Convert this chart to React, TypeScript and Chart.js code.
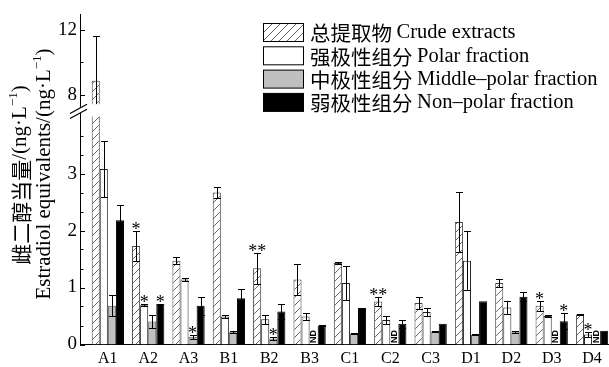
import React, { useEffect, useRef } from 'react';
import { Chart, registerables, LinearScale } from 'chart.js';

Chart.register(...registerables);

// ---------- data ----------
const categories = ['A1', 'A2', 'A3', 'B1', 'B2', 'B3', 'C1', 'C2', 'C3', 'D1', 'D2', 'D3', 'D4'];

const seriesLabels = [
  ['总提取物', 'Crude extracts'],
  ['强极性组分', 'Polar fraction'],
  ['中极性组分', 'Middle–polar fraction'],
  ['弱极性组分', 'Non–polar fraction'],
];

const crude = [8.86, 1.73, 1.47, 2.665, 1.34, 1.14, 1.43, 0.755, 0.73, 2.15, 1.08, 0.68, 0.525];
const crudeSd = [2.79, 0.27, 0.06, 0.1, 0.27, 0.28, 0.01, 0.08, 0.11, 0.53, 0.07, 0.09, 0.01];
const crudeMarks = ['', '*', '', '', '**', '', '', '**', '', '', '', '*', ''];

const polar = [3.08, 0.69, 1.14, 0.49, 0.445, 0.49, 1.08, 0.43, 0.57, 1.47, 0.65, 0.5, 0.175];
const polarSd = [0.49, 0.02, 0.02, 0.02, 0.08, 0.06, 0.3, 0.07, 0.07, 0.52, 0.11, 0.02, 0.05];
const polarMarks = ['', '*', '', '', '', '', '', '', '', '', '', '', '*'];

const middle = [0.68, 0.405, 0.135, 0.215, 0.107, null, 0.19, null, 0.23, 0.17, 0.215, null, null];
const middleSd = [0.18, 0.115, 0.04, 0.02, 0.02, 0, 0.01, 0, 0.01, 0.01, 0.02, 0, 0];
const middleMarks = ['', '', '*', '', '*', 'ND', '', 'ND', '', '', '', 'ND', 'ND'];

const nonpolar = [2.18, 0.71, 0.68, 0.81, 0.58, 0.335, 0.64, 0.365, 0.365, 0.76, 0.84, 0.41, 0.24];
const nonpolarSd = [0.27, 0, 0.16, 0.16, 0.13, 0.01, 0, 0.07, 0, 0, 0.08, 0.14, 0];
const nonpolarMarks = ['', '*', '', '', '', '', '', '', '', '', '', '*', ''];

const yTickValues = [0, 1, 2, 3, 8, 12];
const yMinorTicks = [0.333, 0.667, 1.333, 1.667, 2.333, 2.667, 3.333, 3.667, 10];

// axis break: lower segment [0, BREAK_LOW], upper segment [BREAK_HIGH, max]
const BREAK_LOW = 4.0;
const BREAK_HIGH = 7.4;
const FRAC_LOW = 0.6906;
const FRAC_GAP = 0.0375;

const yTitleZh = ['雌二醇当量', '/(ng·L', '−1', ')'];
const yTitleEn = ['', 'Estradiol equivalents/(ng·L', '−1', ')'];

const SERIF = '"Liberation Serif", "Noto Sans CJK SC", serif';
const CJK = '"Noto Sans CJK SC", "Liberation Serif", sans-serif';

// ---------- broken scale ----------
class BrokenLinearScale extends LinearScale {
  static id = 'brokenLinear';
  static defaults = LinearScale.defaults;

  buildTicks() {
    return yTickValues.map((v) => ({ value: v }));
  }

  toDecimal(v: number) {
    const max = this.max;
    const fUp = 1 - FRAC_LOW - FRAC_GAP;
    if (v <= BREAK_LOW) return (v / BREAK_LOW) * FRAC_LOW;
    if (v < BREAK_HIGH) return FRAC_LOW + ((v - BREAK_LOW) / (BREAK_HIGH - BREAK_LOW)) * FRAC_GAP;
    return FRAC_LOW + FRAC_GAP + ((v - BREAK_HIGH) / (max - BREAK_HIGH)) * fUp;
  }

  getPixelForValue(value: any) {
    if (value === null || value === undefined || isNaN(value)) return NaN;
    return this.getPixelForDecimal(this.toDecimal(+value));
  }

  getValueForPixel(pixel: number) {
    const d = this.getDecimalForPixel(pixel);
    const max = this.max;
    const fUp = 1 - FRAC_LOW - FRAC_GAP;
    if (d <= FRAC_LOW) return (d / FRAC_LOW) * BREAK_LOW;
    if (d < FRAC_LOW + FRAC_GAP) return BREAK_LOW + ((d - FRAC_LOW) / FRAC_GAP) * (BREAK_HIGH - BREAK_LOW);
    return BREAK_HIGH + ((d - FRAC_LOW - FRAC_GAP) / fUp) * (max - BREAK_HIGH);
  }
}
Chart.register(BrokenLinearScale as any);

function makeHatch(size: number) {
  const c = document.createElement('canvas');
  c.width = size;
  c.height = size;
  const g = c.getContext('2d')!;
  g.fillStyle = '#ffffff';
  g.fillRect(0, 0, size, size);
  g.strokeStyle = '#555555';
  g.lineWidth = 0.9;
  g.beginPath();
  g.moveTo(-1, size + 1);
  g.lineTo(size + 1, -1);
  g.moveTo(-1, 1);
  g.lineTo(1, -1);
  g.moveTo(size - 1, size + 1);
  g.lineTo(size + 1, size - 1);
  g.stroke();
  return g.createPattern(c, 'repeat')!;
}

function drawRotatedTitle(ctx: CanvasRenderingContext2D, parts: string[], cx: number, cy: number, cjkSize: number, size: number) {
  const fonts = [`${cjkSize}px ${CJK}`, `${size}px ${SERIF}`, `${Math.round(size * 0.6)}px ${SERIF}`, `${size}px ${SERIF}`];
  const dys = [0, 0, -size * 0.32, 0];
  ctx.save();
  ctx.translate(cx, cy);
  ctx.rotate(-Math.PI / 2);
  ctx.fillStyle = '#000';
  ctx.textBaseline = 'middle';
  ctx.textAlign = 'left';
  const widths = parts.map((p, i) => {
    ctx.font = fonts[i];
    return p ? ctx.measureText(p).width : 0;
  });
  const total = widths.reduce((a, b) => a + b, 0);
  let x = -total / 2;
  parts.forEach((p, i) => {
    if (!p) return;
    ctx.font = fonts[i];
    ctx.fillText(p, x, dys[i] + (i === 0 ? 1 : 0));
    x += widths[i];
  });
  ctx.restore();
}

export default function App() {
  const ref = useRef<HTMLCanvasElement | null>(null);

  useEffect(() => {
    const canvas = ref.current!;
    const hatch = makeHatch(8);
    const sds = [crudeSd, polarSd, middleSd, nonpolarSd];
    const marks = [crudeMarks, polarMarks, middleMarks, nonpolarMarks];
    const vals = [crude, polar, middle, nonpolar];

    const overlay = {
      id: 'overlay',
      afterDatasetsDraw(chart: any) {
        const ctx = chart.ctx as CanvasRenderingContext2D;
        const ys = chart.scales.y;
        const area = chart.chartArea;
        // error bars
        ctx.save();
        ctx.strokeStyle = '#000';
        ctx.lineWidth = 1;
        for (let d = 0; d < 4; d++) {
          const meta = chart.getDatasetMeta(d);
          vals[d].forEach((v, j) => {
            const sd = sds[d][j];
            if (v === null || !sd) return;
            const el = meta.data[j];
            const x = Math.round(el.x) + 0.5;
            const top = Math.round(ys.getPixelForValue(v + sd)) + 0.5;
            const bot = Math.round(ys.getPixelForValue(Math.max(0, v - sd))) + 0.5;
            const hw = 3.5;
            ctx.beginPath();
            ctx.moveTo(x, top);
            ctx.lineTo(x, bot);
            ctx.moveTo(x - hw, top);
            ctx.lineTo(x + hw, top);
            ctx.moveTo(x - hw, bot);
            ctx.lineTo(x + hw, bot);
            ctx.stroke();
          });
        }
        ctx.restore();
        // asterisks and ND
        ctx.save();
        ctx.fillStyle = '#000';
        for (let d = 0; d < 4; d++) {
          const meta = chart.getDatasetMeta(d);
          marks[d].forEach((m, j) => {
            if (!m) return;
            const el = meta.data[j];
            const x = el.x;
            if (m === 'ND') {
              ctx.save();
              ctx.translate(x, area.bottom - 8);
              ctx.rotate(-Math.PI / 2);
              ctx.font = `bold 9px "Liberation Sans", sans-serif`;
              ctx.textAlign = 'center';
              ctx.textBaseline = 'middle';
              ctx.fillText('ND', 0, 0);
              ctx.restore();
            } else {
              const v = vals[d][j] as number;
              const sd = sds[d][j] || 0;
              const top = ys.getPixelForValue(v + sd);
              ctx.font = `18px ${SERIF}`;
              ctx.textAlign = 'center';
              ctx.textBaseline = 'alphabetic';
              ctx.fillText(m, x, top + 4);
            }
          });
        }
        ctx.restore();
        // axis break
        const gTop = ys.getPixelForValue(BREAK_HIGH);
        const gBot = ys.getPixelForValue(BREAK_LOW);
        const el0 = chart.getDatasetMeta(0).data[0];
        ctx.save();
        ctx.fillStyle = '#fff';
        ctx.fillRect(el0.x - el0.width / 2 - 1, gTop, el0.width + 2, gBot - gTop);
        ctx.beginPath();
        ctx.moveTo(area.left - 10, gBot + 2);
        ctx.lineTo(area.left + 7, gTop + 5);
        ctx.lineTo(area.left + 7, gTop);
        ctx.lineTo(area.left - 10, gBot - 3);
        ctx.closePath();
        ctx.fill();
        ctx.strokeStyle = '#000';
        ctx.lineWidth = 1.2;
        ctx.beginPath();
        ctx.moveTo(area.left - 10, gBot + 2);
        ctx.lineTo(area.left + 7, gTop + 5);
        ctx.moveTo(area.left - 10, gBot - 3);
        ctx.lineTo(area.left + 7, gTop);
        ctx.stroke();
        ctx.restore();
      },
      afterDraw(chart: any) {
        const ctx = chart.ctx as CanvasRenderingContext2D;
        const ys = chart.scales.y;
        const area = chart.chartArea;
        // inside ticks
        ctx.save();
        ctx.strokeStyle = '#000';
        ctx.lineWidth = 1;
        ctx.beginPath();
        yTickValues.forEach((v) => {
          const p = Math.round(ys.getPixelForValue(v)) + 0.5;
          ctx.moveTo(area.left, p);
          ctx.lineTo(area.left + 5, p);
        });
        yMinorTicks.forEach((v) => {
          const p = Math.round(ys.getPixelForValue(v)) + 0.5;
          ctx.moveTo(area.left, p);
          ctx.lineTo(area.left + 3.5, p);
        });
        ctx.stroke();
        ctx.restore();
        // legend
        const fills: any[] = [hatch, '#ffffff', '#c0c0c0', '#000000'];
        ctx.save();
        seriesLabels.forEach((lab, i) => {
          const bx = 263.5;
          const by = 23.5 + i * 23.3;
          ctx.fillStyle = fills[i];
          ctx.fillRect(bx, by, 40, 18);
          ctx.strokeStyle = '#000';
          ctx.lineWidth = 1;
          ctx.strokeRect(bx, by, 40, 18);
          ctx.fillStyle = '#000';
          ctx.textAlign = 'left';
          ctx.textBaseline = 'middle';
          ctx.font = `20.5px ${CJK}`;
          const zh = lab[0] + ' ';
          ctx.fillText(zh, 310, by + 10);
          const w = ctx.measureText(zh).width;
          ctx.font = `20.5px ${SERIF}`;
          ctx.fillText(lab[1], 310 + w, by + 9.5);
        });
        ctx.restore();
        // y title
        drawRotatedTitle(ctx, yTitleZh, 20, 175, 21, 21);
        drawRotatedTitle(ctx, yTitleEn, 44, 174, 21, 21);
      },
    };

    const mk = (arr: (number | null)[]) => arr.map((v, i) => ({ x: i, y: v }));

    const chart = new Chart(canvas, {
      type: 'bar',
      data: {
        datasets: [
          { label: seriesLabels[0][1], data: mk(crude), backgroundColor: hatch, borderColor: '#444', borderWidth: 1 },
          { label: seriesLabels[1][1], data: mk(polar), backgroundColor: '#ffffff', borderColor: '#222', borderWidth: 1 },
          { label: seriesLabels[2][1], data: mk(middle), backgroundColor: '#c0c0c0', borderColor: '#555', borderWidth: 1 },
          { label: seriesLabels[3][1], data: mk(nonpolar), backgroundColor: '#000000', borderColor: '#000', borderWidth: 1 },
        ] as any,
      },
      options: {
        responsive: false,
        animation: false,
        devicePixelRatio: 1,
        layout: { padding: { top: 8.75, left: 0, right: 0, bottom: 0 } },
        datasets: { bar: { categoryPercentage: 0.8, barPercentage: 1.0 } } as any,
        plugins: { legend: { display: false }, tooltip: { enabled: false } },
        scales: {
          x: {
            type: 'linear',
            min: -0.69,
            max: 12.42,
            offset: false,
            grid: { display: false, drawTicks: false, offset: false },
            border: { display: true, color: '#000', width: 1 },
            afterBuildTicks: (s: any) => {
              s.ticks = categories.map((_, i) => ({ value: i }));
            },
            afterFit: (s: any) => {
              s.height = 22.5;
            },
            ticks: {
              autoSkip: false,
              maxRotation: 0,
              padding: 5,
              color: '#000',
              font: { family: SERIF, size: 16 },
              callback: (v: any) => categories[v] ?? '',
            },
          },
          y: {
            type: 'brokenLinear' as any,
            min: 0,
            max: 13,
            grid: { display: false, drawTicks: false },
            border: { display: true, color: '#000', width: 1 },
            afterFit: (s: any) => {
              s.width = 80;
            },
            ticks: {
              autoSkip: false,
              padding: 3,
              color: '#000',
              font: { family: SERIF, size: 19 },
              callback: (v: any) => String(v),
            },
          },
        },
      } as any,
      plugins: [overlay],
    });
    return () => chart.destroy();
  }, []);

  return (
    <div style={{ position: 'fixed', left: 0, top: 0, width: 609, height: 367, background: '#fff' }}>
      <canvas ref={ref} width={609} height={367} style={{ display: 'block' }} />
    </div>
  );
}
